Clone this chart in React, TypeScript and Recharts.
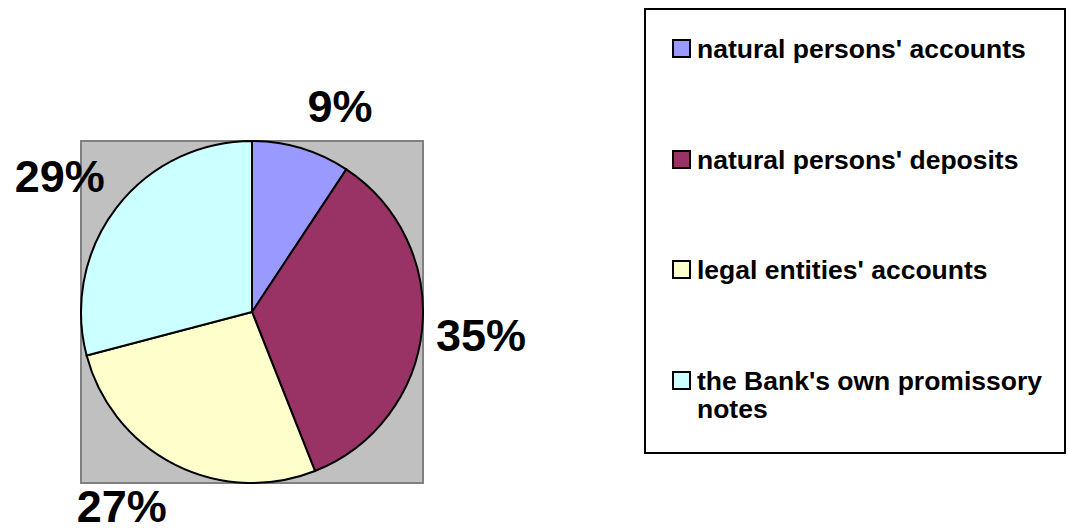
import React from 'react';
import { PieChart, Pie, Cell } from 'recharts';

// slice shares (angles), labels show the rounded percent
const categories = [
  "natural persons' accounts",
  "natural persons' deposits",
  "legal entities' accounts",
  "the Bank's own promissory notes",
];
const shares = [9.3, 34.7, 26.9, 29.1];
const colors = ['#9999FF', '#993366', '#FFFFCC', '#CCFFFF'];

const data = categories.map((name, i) => ({ name, value: shares[i] }));

const FONT = '"Liberation Sans", Arial, Helvetica, sans-serif';
const RAD = Math.PI / 180;

// Excel-style outside labels: the label box touches the mid-angle ray just outside the pie
const renderLabel = (props: any) => {
  const { cx, cy, midAngle, outerRadius, percent } = props;
  const s = Math.cos(midAngle * RAD);
  const c = Math.sin(midAngle * RAD);
  const r = outerRadius + 11;
  const ax = cx + r * s;
  const ay = cy - r * c;
  const k = Math.max(-1, Math.min(1, c * 1.3));
  const y = ay - k * 31.6 + 16;
  const padX = 3;
  return (
    <text
      x={s >= 0 ? ax + padX : ax - padX}
      y={y}
      textAnchor={s >= 0 ? 'start' : 'end'}
      fontFamily={FONT}
      fontWeight="bold"
      fontSize={45}
      fill="#000"
    >
      {`${Math.round(percent * 100)}%`}
    </text>
  );
};

const App: React.FC = () => {
  return (
    <div style={{ position: 'absolute', left: 0, top: 0, width: 1068, height: 530, background: '#fff', fontFamily: FONT }}>
      {/* plot area */}
      <div
        style={{
          position: 'absolute',
          left: 80,
          top: 140,
          width: 344,
          height: 344,
          boxSizing: 'border-box',
          background: '#C0C0C0',
          border: '2px solid #808080',
        }}
      />

      <div style={{ position: 'absolute', left: 0, top: 0 }}>
        <PieChart width={1068} height={530} margin={{ top: 0, right: 0, bottom: 0, left: 0 }}>
          <Pie
            data={data}
            dataKey="value"
            nameKey="name"
            cx={252}
            cy={312}
            outerRadius={171}
            startAngle={90}
            endAngle={-270}
            stroke="#000"
            strokeWidth={2}
            label={renderLabel}
            labelLine={false}
            isAnimationActive={false}
          >
            {data.map((d, i) => (
              <Cell key={d.name} fill={colors[i]} />
            ))}
          </Pie>
        </PieChart>
      </div>

      {/* legend */}
      <div
        style={{
          position: 'absolute',
          left: 644,
          top: 8,
          width: 422,
          height: 446,
          boxSizing: 'border-box',
          border: '2px solid #000',
          paddingTop: 25,
          paddingLeft: 26,
          paddingRight: 8,
        }}
      >
        {categories.map((name, i) => (
          <div key={name} style={{ display: 'flex', alignItems: 'flex-start', marginBottom: 82.5 }}>
            <div
              style={{
                width: 19,
                height: 19,
                boxSizing: 'border-box',
                background: colors[i],
                border: '2px solid #000',
                marginTop: 4,
                flex: 'none',
              }}
            />
            <div
              style={{
                marginLeft: 6,
                fontSize: 26.5,
                fontWeight: 'bold',
                lineHeight: '28px',
                color: '#000',
              }}
            >
              {name}
            </div>
          </div>
        ))}
      </div>
    </div>
  );
};

export default App;
